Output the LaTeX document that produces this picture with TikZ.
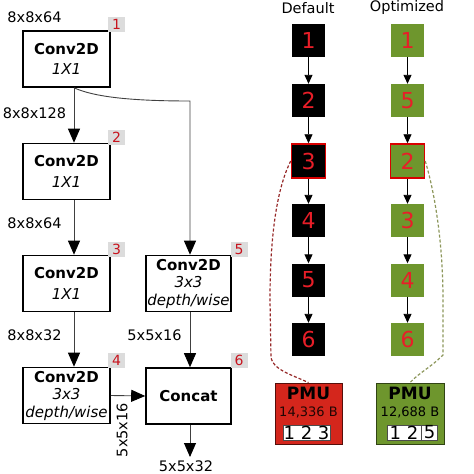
\documentclass[tikz,border=0pt]{standalone}
\usepackage{fontspec}
\setmainfont{DejaVu Sans}
\usetikzlibrary{arrows.meta,calc}
\definecolor{olive}{RGB}{110,150,45}
\definecolor{pmured}{RGB}{212,38,28}
\definecolor{numred}{RGB}{232,30,40}
\definecolor{badgered}{RGB}{200,20,30}
\definecolor{badgegray}{RGB}{220,220,220}
\definecolor{dashred}{RGB}{150,40,40}
\definecolor{dashgreen}{RGB}{140,150,90}
\tikzset{
  layer/.style={draw, line width=1.6pt, minimum width=87, minimum height=56, align=center, inner sep=1pt,
    font=\fontsize{15}{17.5}\selectfont},
  badge/.style={fill=badgegray, minimum width=17, minimum height=15, inner sep=0pt, text=badgered,
    font=\fontsize{14}{14}\selectfont},
  dimlabel/.style={inner sep=0pt, font=\fontsize{14.5}{14.5}\selectfont},
  bigarrow/.style={draw=black!75, line width=0.9pt, -{Triangle[length=14pt,width=12pt,color=black]}},
  sqarrow/.style={draw=black, line width=0.9pt, -{Triangle[length=9pt,width=8pt]}},
  sq/.style={minimum width=33, minimum height=33, inner sep=0pt, text=numred, font=\fontsize{22}{22}\selectfont},
  defsq/.style={sq, fill=black},
  optsq/.style={sq, fill=olive},
  pmubox/.style={minimum width=67, minimum height=61, inner sep=0pt, line width=0.8pt},
  cell/.style={fill=white, draw=black!70, line width=0.5pt, minimum height=15, inner sep=0pt,
    font=\fontsize{18}{18}\selectfont},
  linkline/.style={dash pattern=on 3pt off 2pt, line width=1.2pt},
}
\begin{document}
\begin{tikzpicture}[x=1pt,y=-1pt]
\useasboundingbox (0,0) rectangle (474,474);
% left diagram
\node[layer] (b1) at (66.5,59) {\textbf{Conv2D}\\[3pt]\textit{1X1}};
\node[layer] (b2) at (66.5,171.5) {\textbf{Conv2D}\\[3pt]\textit{1X1}};
\node[layer] (b3) at (66.5,283.5) {\textbf{Conv2D}\\[3pt]\textit{1X1}};
\node[layer] (b4) at (66.5,395.5) {\textbf{Conv2D}\\\textit{3x3}\\\textit{depth/wise}};
\node[layer, minimum width=85] (b5) at (188.5,283.5) {\textbf{Conv2D}\\\textit{3x3}\\\textit{depth/wise}};
\node[layer, minimum width=85] (b6) at (188.5,396) {\textbf{Concat}};
\node[badge] (n1) at (116.5,24.5) {1};
\node[badge] (n2) at (116.5,137) {2};
\node[badge] (n3) at (116.5,249) {3};
\node[badge] (n4) at (116.5,360.5) {4};
\node[badge] (n5) at (239,249) {5};
\node[badge] (n6) at (239,360.5) {6};
\node[dimlabel] (l1) at (34.5,17) {8x8x64};
\node[dimlabel] (l2) at (34.5,113) {8x8x128};
\node[dimlabel] (l3) at (34.5,223.5) {8x8x64};
\node[dimlabel] (l4) at (34.5,335) {8x8x32};
\node[dimlabel] (l5) at (154.5,335) {5x5x16};
\node[dimlabel, rotate=90] (l6) at (122,430) {5x5x16};
\node[dimlabel] (l7) at (186,466) {5x5x32};
\coordinate (ax) at (74,0);
\coordinate (bx) at (190,0);
\coordinate (bend) at (190,101);
\coordinate (out) at (190,457);
\draw[bigarrow] (b1.south -| ax) -- (b2.north -| ax);
\draw[bigarrow] (b2.south -| ax) -- (b3.north -| ax);
\draw[bigarrow] (b3.south -| ax) -- (b4.north -| ax);
\draw[bigarrow] (b1.south -| ax) .. controls +(20,9) and +(-60,0) .. (bend) -- (b5.north -| bx);
\draw[bigarrow] (b5.south -| bx) -- (b6.north -| bx);
\draw[bigarrow] (b4.east) -- (b6.west);
\draw[bigarrow] (b6.south -| bx) -- (out);
% right diagram
\node[dimlabel] (hd) at (308,8) {Default};
\node[dimlabel] (ho) at (407,7) {Optimized};
\node[defsq] (d1) at (308.5,40.5) {1};
\node[defsq] (d2) at (308.5,100.5) {2};
\node[defsq, draw=red!85!black, line width=1.5pt, minimum width=34, minimum height=34] (d3) at (308.5,161) {3};
\node[defsq] (d4) at (308.5,220.5) {4};
\node[defsq] (d5) at (308.5,280) {5};
\node[defsq] (d6) at (308.5,339.5) {6};
\node[optsq] (o1) at (407.5,40.5) {1};
\node[optsq] (o2) at (407.5,100.5) {5};
\node[optsq, draw=red!85!black, line width=1.5pt, minimum width=34, minimum height=34] (o3) at (407.5,161) {2};
\node[optsq] (o4) at (407.5,220.5) {3};
\node[optsq] (o5) at (407.5,280) {4};
\node[optsq] (o6) at (407.5,339.5) {6};
\foreach \a/\b in {1/2,2/3,3/4,4/5,5/6}{
  \draw[sqarrow] (d\a.south) -- (d\b.north);
  \draw[sqarrow] (o\a.south) -- (o\b.north);
}
% PMU boxes
\node[pmubox, fill=pmured, draw=black!60!pmured] (pr) at (308.5,413.5) {};
\node[pmubox, fill=olive, draw=black!55!olive, minimum width=68] (pg) at (410,413.5) {};
\node[inner sep=0pt, font=\fontsize{17}{17}\selectfont\bfseries] (prt) at (308.5,393.5) {PMU};
\node[inner sep=0pt, font=\fontsize{13}{13}\selectfont, text=black!85!pmured] (prb) at (308.5,412.5) {14,336 B};
\node[cell, minimum width=47] (prc) at (306.5,432.5) {1 2 3};
\node[inner sep=0pt, font=\fontsize{17}{17}\selectfont\bfseries] (pgt) at (410,393.5) {PMU};
\node[inner sep=0pt, font=\fontsize{13}{13}\selectfont] (pgb) at (410,412.5) {12,688 B};
\node[cell, minimum width=34] (pgc1) at (404,432.5) {1 2};
\node[cell, minimum width=16, anchor=west] (pgc2) at (pgc1.east) {5};
% dashed links
\draw[dashred, linkline] (d3.west) .. controls (276,190) and (270,240) .. (270,300)
  -- (271,358) .. controls (274,370) and (290,374) .. (pr.north);
\draw[dashgreen, linkline] (o3.east) .. controls (434,190) and (443,240) .. (443,300)
  -- (443,355) .. controls (430,368) and (420,372) .. (pg.north);
\end{tikzpicture}
\end{document}
